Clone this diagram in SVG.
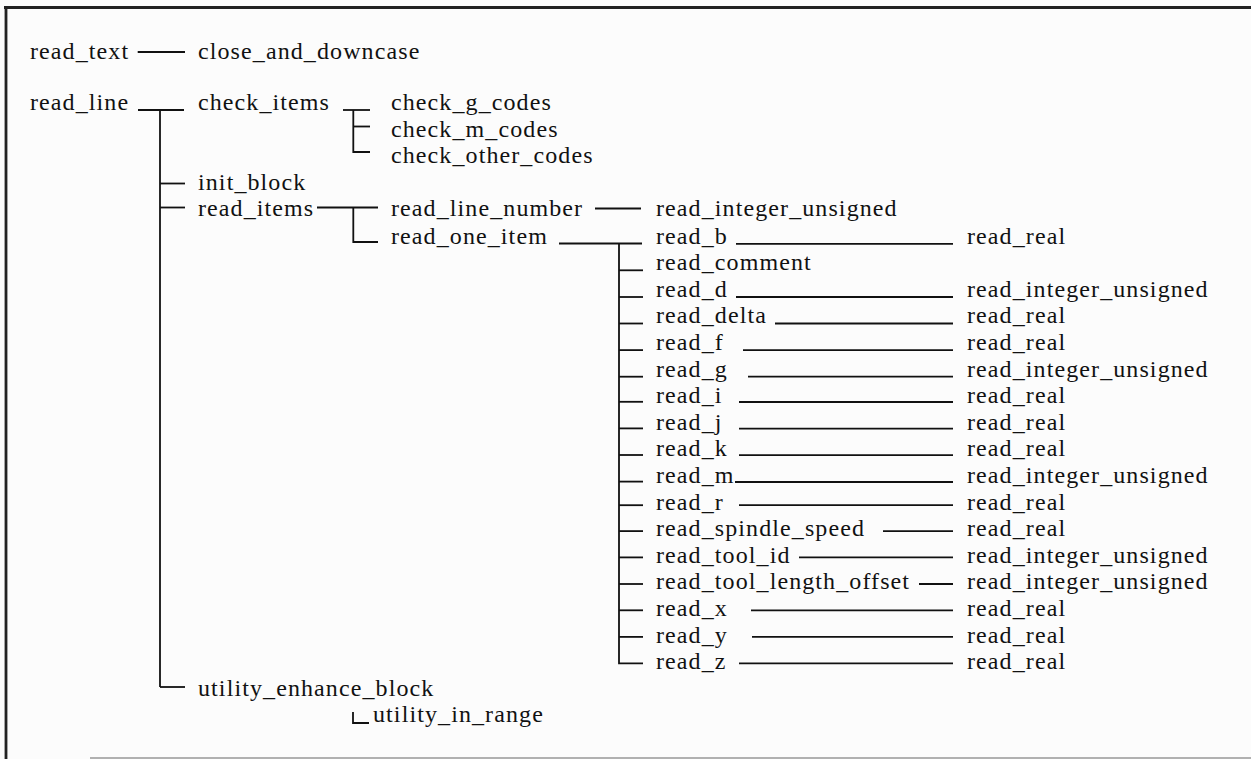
<svg xmlns="http://www.w3.org/2000/svg" width="1251" height="759" viewBox="0 0 1251 759">
<style>
.t{font-family:"Liberation Serif","Times New Roman",serif;font-size:24px;letter-spacing:1.1px;fill:#111}
.c{stroke:#111;stroke-width:1.8;fill:none}
.b{stroke:#222;stroke-width:2.8;fill:none}
</style>
<rect width="1251" height="759" fill="#fcfcfc"/>
<g id="frame">
<path class="b" d="M4 7.5 H1251"/>
<path class="b" d="M6 6 V759"/>
<path d="M90 758 H1251" stroke="#999" stroke-width="1.5"/>
</g>
<g id="connectors">
<path class="c" d="M137.7 52 H185"/>
<path class="c" d="M138 110 H184"/>
<path class="c" d="M160 110 V687"/>
<path class="c" d="M160 183.5 H185"/>
<path class="c" d="M160 207.5 H185"/>
<path class="c" d="M160 687 H185"/>
<path class="c" d="M343 110 H370"/>
<path class="c" d="M353.3 110 V152 H370"/>
<path class="c" d="M353.3 126.5 H370"/>
<path class="c" d="M317 207.5 H378"/>
<path class="c" d="M353.3 207.5 V242 H378"/>
<path class="c" d="M595 208.5 H641"/>
<path class="c" d="M559 243.5 H642"/>
<path class="c" d="M619 243.5 V663.3 H643"/>
<path class="c" d="M619 270.3 H643"/>
<path class="c" d="M619 297 H643"/>
<path class="c" d="M619 323.5 H643"/>
<path class="c" d="M619 350.1 H643"/>
<path class="c" d="M619 376.7 H643"/>
<path class="c" d="M619 401.8 H643"/>
<path class="c" d="M619 428.4 H643"/>
<path class="c" d="M619 455 H643"/>
<path class="c" d="M619 481.6 H643"/>
<path class="c" d="M619 505.2 H643"/>
<path class="c" d="M619 531.1 H643"/>
<path class="c" d="M619 557.4 H643"/>
<path class="c" d="M619 584 H643"/>
<path class="c" d="M619 610.3 H643"/>
<path class="c" d="M619 636.9 H643"/>
<path class="c" d="M736 243.8 H953"/>
<path class="c" d="M736 297 H953"/>
<path class="c" d="M775 323.5 H953"/>
<path class="c" d="M743 350.1 H953"/>
<path class="c" d="M748 376.7 H953"/>
<path class="c" d="M739 402 H953"/>
<path class="c" d="M739 428.6 H953"/>
<path class="c" d="M739 455.2 H953"/>
<path class="c" d="M735 482 H953"/>
<path class="c" d="M739 505.2 H953"/>
<path class="c" d="M883 531.1 H953"/>
<path class="c" d="M799 557.4 H953"/>
<path class="c" d="M919 584 H953"/>
<path class="c" d="M751 610.3 H953"/>
<path class="c" d="M752 636.9 H953"/>
<path class="c" d="M739 663.3 H953"/>
<path class="c" d="M353 712 V723 H369"/>
</g>
<g id="n-read_text"><text class="t" x="30" y="59">read_text</text></g>
<g id="n-close_and_downcase"><text class="t" x="198" y="59">close_and_downcase</text></g>
<g id="n-read_line"><text class="t" x="30" y="110">read_line</text></g>
<g id="n-check_items"><text class="t" x="198" y="110">check_items</text></g>
<g id="n-check_g_codes"><text class="t" x="391" y="110">check_g_codes</text></g>
<g id="n-check_m_codes"><text class="t" x="391" y="136.6">check_m_codes</text></g>
<g id="n-check_other_codes"><text class="t" x="391" y="163.2">check_other_codes</text></g>
<g id="n-init_block"><text class="t" x="198" y="189.8">init_block</text></g>
<g id="n-read_items"><text class="t" x="198" y="216.4">read_items</text></g>
<g id="n-read_line_number"><text class="t" x="391" y="216.4">read_line_number</text></g>
<g id="n-read_integer_unsigned-0"><text class="t" x="656" y="216.4">read_integer_unsigned</text></g>
<g id="n-read_one_item"><text class="t" x="391" y="243.5">read_one_item</text></g>
<g id="n-read_b"><text class="t" x="656" y="243.5">read_b</text></g>
<g id="n-read_real-b"><text class="t" x="967" y="243.5">read_real</text></g>
<g id="n-read_comment"><text class="t" x="656" y="270.1">read_comment</text></g>
<g id="n-read_d"><text class="t" x="656" y="296.7">read_d</text></g>
<g id="n-read_integer_unsigned-d"><text class="t" x="967" y="296.7">read_integer_unsigned</text></g>
<g id="n-read_delta"><text class="t" x="656" y="323.3">read_delta</text></g>
<g id="n-read_real-delta"><text class="t" x="967" y="323.3">read_real</text></g>
<g id="n-read_f"><text class="t" x="656" y="349.9">read_f</text></g>
<g id="n-read_real-f"><text class="t" x="967" y="349.9">read_real</text></g>
<g id="n-read_g"><text class="t" x="656" y="376.5">read_g</text></g>
<g id="n-read_integer_unsigned-g"><text class="t" x="967" y="376.5">read_integer_unsigned</text></g>
<g id="n-read_i"><text class="t" x="656" y="403.1">read_i</text></g>
<g id="n-read_real-i"><text class="t" x="967" y="403.1">read_real</text></g>
<g id="n-read_j"><text class="t" x="656" y="429.7">read_j</text></g>
<g id="n-read_real-j"><text class="t" x="967" y="429.7">read_real</text></g>
<g id="n-read_k"><text class="t" x="656" y="456.3">read_k</text></g>
<g id="n-read_real-k"><text class="t" x="967" y="456.3">read_real</text></g>
<g id="n-read_m"><text class="t" x="656" y="482.9">read_m</text></g>
<g id="n-read_integer_unsigned-m"><text class="t" x="967" y="482.9">read_integer_unsigned</text></g>
<g id="n-read_r"><text class="t" x="656" y="509.5">read_r</text></g>
<g id="n-read_real-r"><text class="t" x="967" y="509.5">read_real</text></g>
<g id="n-read_spindle_speed"><text class="t" x="656" y="536.1">read_spindle_speed</text></g>
<g id="n-read_real-spindle"><text class="t" x="967" y="536.1">read_real</text></g>
<g id="n-read_tool_id"><text class="t" x="656" y="562.7">read_tool_id</text></g>
<g id="n-read_integer_unsigned-tool_id"><text class="t" x="967" y="562.7">read_integer_unsigned</text></g>
<g id="n-read_tool_length_offset"><text class="t" x="656" y="589.3">read_tool_length_offset</text></g>
<g id="n-read_integer_unsigned-tlo"><text class="t" x="967" y="589.3">read_integer_unsigned</text></g>
<g id="n-read_x"><text class="t" x="656" y="615.9">read_x</text></g>
<g id="n-read_real-x"><text class="t" x="967" y="615.9">read_real</text></g>
<g id="n-read_y"><text class="t" x="656" y="642.5">read_y</text></g>
<g id="n-read_real-y"><text class="t" x="967" y="642.5">read_real</text></g>
<g id="n-read_z"><text class="t" x="656" y="669.1">read_z</text></g>
<g id="n-read_real-z"><text class="t" x="967" y="669.1">read_real</text></g>
<g id="n-utility_enhance_block"><text class="t" x="198" y="696.3">utility_enhance_block</text></g>
<g id="n-utility_in_range"><text class="t" x="373" y="722">utility_in_range</text></g>
</svg>
